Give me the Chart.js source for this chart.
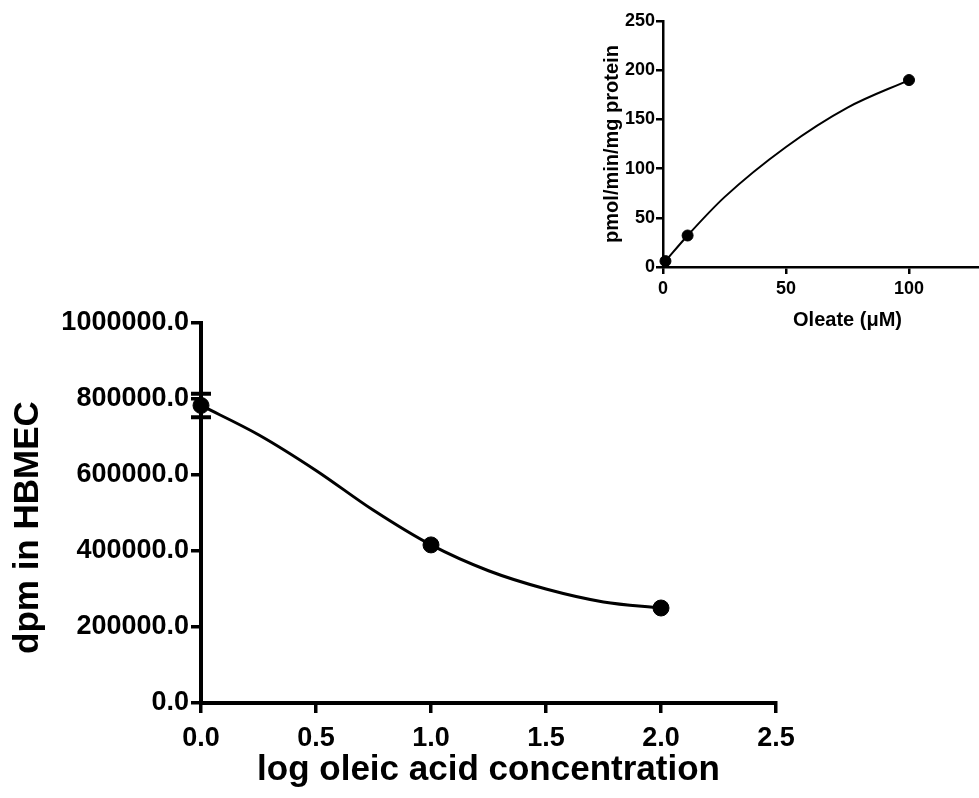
<!DOCTYPE html>
<html>
<head>
<meta charset="utf-8">
<title>Oleic acid uptake</title>
<script src="https://cdn.jsdelivr.net/npm/chart.js@4.4.1/dist/chart.umd.min.js"></script>
<style>
  html, body { margin: 0; padding: 0; background: #fff; overflow: hidden; }
  body { width: 979px; height: 798px; position: relative; }
  canvas { position: absolute; }
  #mainChart { left: 0; top: 0; }
  #insetChart { left: 560px; top: 0; }
</style>
</head>
<body>
<canvas id="mainChart" width="979" height="798"></canvas>
<canvas id="insetChart" width="560" height="340"></canvas>
<script>
// main panel: dpm vs log oleic acid concentration
const logConc = [0, 1, 2];
const dpmMean = [783000, 416000, 250000];
const dpmSem = [31000, 0, 0];
// fitted curve
const fitLogConc = [0, 0.25, 0.5, 0.75, 1, 1.25, 1.5, 1.75, 2];
const fitDpm = [783000, 706000, 612000, 507000, 416000, 348000, 300000, 266000, 250000];
const dpmTicks = [0, 200000, 400000, 600000, 800000, 1000000];
const logTicks = [0, 0.5, 1, 1.5, 2, 2.5];

// inset: uptake rate vs oleate
const oleateUM = [1, 10, 100];
const uptakeRate = [6, 32, 190];
const fitOleate = [1, 10, 25, 50, 75, 100];
const fitRate = [6, 32, 71, 122, 162, 190];
const rateTicks = [0, 50, 100, 150, 200, 250];
const oleateTicks = [0, 50, 100, 150];

const FONT = "'Liberation Sans', Arial, Helvetica, sans-serif";

function toXY(xs, ys) {
  return xs.map((x, i) => ({ x: x, y: ys[i] }));
}

// vertical SEM bars with caps, drawn from the data scales
const errorBars = {
  id: 'errorBars',
  afterDatasetsDraw(chart, args, opts) {
    const ctx = chart.ctx;
    const xs = chart.scales.x, ys = chart.scales.y;
    ctx.save();
    ctx.strokeStyle = '#000';
    ctx.lineWidth = opts.lineWidth;
    opts.x.forEach((xv, i) => {
      const err = opts.err[i];
      if (!err) return;
      const px = xs.getPixelForValue(xv);
      const top = ys.getPixelForValue(opts.y[i] + err);
      const bot = ys.getPixelForValue(opts.y[i] - err);
      const half = opts.capWidth / 2;
      ctx.beginPath();
      ctx.moveTo(px, top); ctx.lineTo(px, bot);
      ctx.moveTo(px - half, top); ctx.lineTo(px + half, top);
      ctx.moveTo(px - half, bot); ctx.lineTo(px + half, bot);
      ctx.stroke();
    });
    ctx.restore();
  }
};

function fixedTicks(values) {
  return function (scale) {
    scale.ticks = values.map(v => ({ value: v }));
  };
}

new Chart(document.getElementById('mainChart'), {
  type: 'scatter',
  data: {
    datasets: [
      {
        data: toXY(logConc, dpmMean),
        pointRadius: 8,
        pointBackgroundColor: '#000',
        pointBorderColor: '#000',
        showLine: false,
        clip: false,
        order: 0
      },
      {
        data: toXY(fitLogConc, fitDpm),
        showLine: true,
        pointRadius: 0,
        borderColor: '#000',
        borderWidth: 3,
        cubicInterpolationMode: 'monotone',
        clip: false,
        order: 1
      }
    ]
  },
  options: {
    responsive: false,
    animation: false,
    devicePixelRatio: 1,
    layout: { padding: { left: 7, right: 203, top: 323, bottom: 7 } },
    plugins: {
      legend: { display: false },
      tooltip: { enabled: false },
      errorBars: { x: logConc, y: dpmMean, err: dpmSem, capWidth: 20, lineWidth: 4 }
    },
    scales: {
      x: {
        type: 'linear',
        min: 0,
        max: 2.5,
        afterBuildTicks: fixedTicks(logTicks),
        afterFit: function (scale) { scale.height = 88; },
        grid: { drawOnChartArea: false, drawTicks: true, tickLength: 10, color: '#000', lineWidth: 3.5 },
        border: { display: true, color: '#000', width: 4 },
        ticks: {
          color: '#000',
          padding: 9,
          maxRotation: 0,
          font: { family: FONT, size: 27, weight: 'bold' },
          callback: v => Number(v).toFixed(1)
        },
        title: {
          display: true,
          text: 'log oleic acid concentration',
          color: '#000',
          padding: 0,
          font: { family: FONT, size: 35, weight: 'bold' }
        }
      },
      y: {
        type: 'linear',
        min: 0,
        max: 1000000,
        afterBuildTicks: fixedTicks(dpmTicks),
        afterFit: function (scale) { scale.width = 194; },
        grid: { drawOnChartArea: false, drawTicks: true, tickLength: 10, color: '#000', lineWidth: 3.5 },
        border: { display: true, color: '#000', width: 4 },
        ticks: {
          color: '#000',
          padding: 2,
          font: { family: FONT, size: 27, weight: 'bold' },
          callback: v => Number(v).toFixed(1)
        },
        title: {
          display: true,
          // trailing spaces nudge the centred title toward the bottom
          text: 'dpm in HBMEC\u00a0\u00a0\u00a0',
          color: '#000',
          padding: 0,
          font: { family: FONT, size: 35, weight: 'bold' }
        }
      }
    }
  },
  plugins: [errorBars]
});

new Chart(document.getElementById('insetChart'), {
  type: 'scatter',
  data: {
    datasets: [
      {
        data: toXY(oleateUM, uptakeRate),
        pointRadius: 5.5,
        pointBackgroundColor: '#000',
        pointBorderColor: '#000',
        showLine: false,
        clip: false,
        order: 0
      },
      {
        data: toXY(fitOleate, fitRate),
        showLine: true,
        pointRadius: 0,
        borderColor: '#000',
        borderWidth: 2,
        cubicInterpolationMode: 'monotone',
        clip: false,
        order: 1
      }
    ]
  },
  options: {
    responsive: false,
    animation: false,
    devicePixelRatio: 1,
    layout: { padding: { left: 40, right: 88, top: 21, bottom: 8 } },
    plugins: {
      legend: { display: false },
      tooltip: { enabled: false }
    },
    scales: {
      x: {
        type: 'linear',
        min: 0,
        max: 150,
        afterBuildTicks: fixedTicks(oleateTicks),
        afterFit: function (scale) { scale.height = 65; },
        grid: { drawOnChartArea: false, drawTicks: true, tickLength: 7, color: '#000', lineWidth: 2.5 },
        border: { display: true, color: '#000', width: 2.5 },
        ticks: {
          color: '#000',
          padding: 4,
          maxRotation: 0,
          font: { family: FONT, size: 18, weight: 'bold' }
        },
        title: {
          display: true,
          text: 'Oleate (\u03bcM)',
          color: '#000',
          padding: 0,
          font: { family: FONT, size: 20, weight: 'bold' }
        }
      },
      y: {
        type: 'linear',
        min: 0,
        max: 250,
        afterBuildTicks: fixedTicks(rateTicks),
        afterFit: function (scale) { scale.width = 63; },
        grid: { drawOnChartArea: false, drawTicks: true, tickLength: 7, color: '#000', lineWidth: 2.5 },
        border: { display: true, color: '#000', width: 2.5 },
        ticks: {
          color: '#000',
          padding: 1,
          font: { family: FONT, size: 18, weight: 'bold' }
        },
        title: {
          display: true,
          text: 'pmol/min/mg protein',
          color: '#000',
          padding: 0,
          font: { family: FONT, size: 20, weight: 'bold' }
        }
      }
    }
  }
});
</script>
</body>
</html>
